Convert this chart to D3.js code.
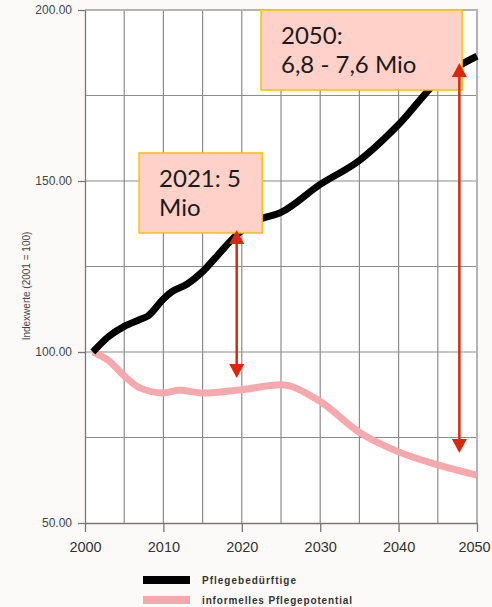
<!DOCTYPE html>
<html>
<head>
<meta charset="utf-8">
<script src="https://cdn.jsdelivr.net/npm/d3@7"></script>
<style>
  body { margin: 0; background: #fbfaf8; }
  svg { display: block; }
</style>
</head>
<body>
<svg id="chart" width="492" height="607"></svg>
<script>
// series values
var yearsCare = [2001, 2003, 2005, 2007, 2008, 2010, 2011, 2013, 2015, 2017, 2019, 2020, 2022, 2025, 2030, 2035, 2040, 2045, 2050];
var valuesCare = [100, 104.5, 107.5, 109.5, 110.5, 115.5, 117.5, 119.8, 123.5, 128.5, 133.5, 135.5, 138.5, 140.8, 149, 156, 166.5, 179.3, 186.5];

var yearsInformal = [2001, 2003, 2005, 2007, 2010, 2012, 2015, 2020, 2025, 2030, 2035, 2040, 2045, 2050];
var valuesInformal = [100, 97.5, 93, 89.5, 88, 88.8, 88, 89, 90.4, 85.5, 76.5, 70.8, 67, 64];

var seriesNames = ["Pflegebedürftige", "informelles Pflegepotential"];
var xTicks = [2000, 2010, 2020, 2030, 2040, 2050];
var yTicks = [50, 100, 150, 200];
var yTitle = "Indexwerte (2001 = 100)";

// annotations: text lines, box extent (years / index values), arrows
var noteLines = [["2021: 5", "Mio"], ["2050:", "6,8 - 7,6 Mio"]];
var noteX0 = [2006.9, 2022.45];
var noteX1 = [2022.6, 2048.1];
var noteTop = [158.2, 200];
var noteBottom = [134.8, 176.6];
var arrowYears = [2019.35, 2047.75];
var arrowTop = [135.7, 184.5];
var arrowBottom = [92.4, 70.5];

var svg = d3.select("#chart");
var x = d3.scaleLinear().domain([2000, 2050]).range([85, 477]);
var y = d3.scaleLinear().domain([50, 200]).range([523, 10]);

// plot background
svg.append("rect")
    .attr("x", x(2000)).attr("y", y(200))
    .attr("width", x(2050) - x(2000)).attr("height", y(50) - y(200))
    .attr("fill", "#fff");

// grid
var grid = svg.append("g");
grid.selectAll(".v").data(d3.range(2005, 2050, 5)).enter().append("line")
    .attr("x1", function(d) { return x(d); }).attr("x2", function(d) { return x(d); })
    .attr("y1", y(200)).attr("y2", y(50))
    .attr("stroke", "#8c8c8c").attr("stroke-width", 1.2);
grid.selectAll(".h").data(d3.range(75, 200, 25)).enter().append("line")
    .attr("x1", x(2000)).attr("x2", x(2050))
    .attr("y1", function(d) { return y(d); }).attr("y2", function(d) { return y(d); })
    .attr("stroke", "#8c8c8c").attr("stroke-width", 1.2);
// top and right border
grid.append("path")
    .attr("d", "M" + x(2000) + "," + y(200) + "H" + x(2050) + "V" + y(50))
    .attr("fill", "none").attr("stroke", "#b4b4b4").attr("stroke-width", 2);

// axes
var yAxis = svg.append("g")
    .attr("transform", "translate(" + x(2000) + ",0)")
    .call(d3.axisLeft(y).tickValues(yTicks).tickFormat(d3.format(".2f")).tickSize(7).tickSizeOuter(0).tickPadding(6));
yAxis.selectAll("text").attr("font-family", "Liberation Sans, Arial, sans-serif").attr("font-size", 12).attr("fill", "#444");

var xAxis = svg.append("g")
    .attr("transform", "translate(0," + y(50) + ")")
    .call(d3.axisBottom(x).tickValues(xTicks).tickFormat(d3.format("d")).tickSize(9).tickSizeOuter(0).tickPadding(9.5));
xAxis.selectAll("text")
    .attr("font-family", "Liberation Sans, Arial, sans-serif").attr("font-size", 14.5).attr("fill", "#333")
    .attr("dx", function(d) { return d === 2050 ? -3 : 0; });

svg.selectAll(".domain").attr("stroke", "#777").attr("stroke-width", 1.3);
svg.selectAll(".tick line").attr("stroke", "#777").attr("stroke-width", 1.3);

svg.append("text")
    .attr("transform", "translate(30," + 286 + ") rotate(-90)")
    .attr("text-anchor", "middle")
    .attr("font-family", "Liberation Sans, Arial, sans-serif")
    .attr("font-size", 10).attr("fill", "#444")
    .text(yTitle);

// lines
var line = d3.line()
    .x(function(d) { return x(d[0]); })
    .y(function(d) { return y(d[1]); })
    .curve(d3.curveMonotoneX);

svg.append("path")
    .datum(d3.zip(yearsInformal, valuesInformal))
    .attr("d", line)
    .attr("fill", "none").attr("stroke", "#f6a9ac").attr("stroke-width", 7)
    .attr("stroke-linejoin", "round");

svg.append("path")
    .datum(d3.zip(yearsCare, valuesCare))
    .attr("d", line)
    .attr("fill", "none").attr("stroke", "#000").attr("stroke-width", 7)
    .attr("stroke-linejoin", "round");

// annotation boxes
noteLines.forEach(function(lines, i) {
    var bx = x(noteX0[i]), by = y(noteTop[i]);
    svg.append("rect")
        .attr("x", bx).attr("y", by)
        .attr("width", x(noteX1[i]) - bx).attr("height", y(noteBottom[i]) - by)
        .attr("fill", "#ffd1c9").attr("stroke", "#ffc000").attr("stroke-width", 1.5);
    svg.append("text")
        .attr("font-family", "Lato, sans-serif").attr("font-size", 24).attr("fill", "#1a1a1a")
        .selectAll("tspan").data(lines).enter().append("tspan")
        .attr("x", bx + 20)
        .attr("y", function(d, j) { return by + 34 + j * 29; })
        .text(function(d) { return d; });
});

// red double arrows
var red = "#d8290e";
arrowYears.forEach(function(yr, i) {
    var ax = x(yr), t = y(arrowTop[i]), b = y(arrowBottom[i]);
    svg.append("line")
        .attr("x1", ax).attr("x2", ax).attr("y1", t + 10).attr("y2", b - 10)
        .attr("stroke", red).attr("stroke-width", 2.5);
    svg.append("path")
        .attr("d", "M" + ax + "," + t + "L" + (ax - 7.5) + "," + (t + 14) + "L" + (ax + 7.5) + "," + (t + 14) + "Z")
        .attr("fill", red);
    svg.append("path")
        .attr("d", "M" + ax + "," + b + "L" + (ax - 7.5) + "," + (b - 14) + "L" + (ax + 7.5) + "," + (b - 14) + "Z")
        .attr("fill", red);
});

// legend
var legendColors = ["#000", "#f6a9ac"];
var legendWidths = [94, 150];
var legend = svg.append("g");
seriesNames.forEach(function(name, i) {
    legend.append("rect")
        .attr("x", 143).attr("y", 576 + i * 20)
        .attr("width", 47).attr("height", 8)
        .attr("fill", legendColors[i]);
    legend.append("text")
        .attr("x", 202).attr("y", 584 + i * 20)
        .attr("font-family", "Liberation Sans, Arial, sans-serif")
        .attr("font-size", 10).attr("font-weight", "bold").attr("fill", "#333")
        .attr("textLength", legendWidths[i]).attr("lengthAdjust", "spacing")
        .text(name);
});
</script>
</body>
</html>
